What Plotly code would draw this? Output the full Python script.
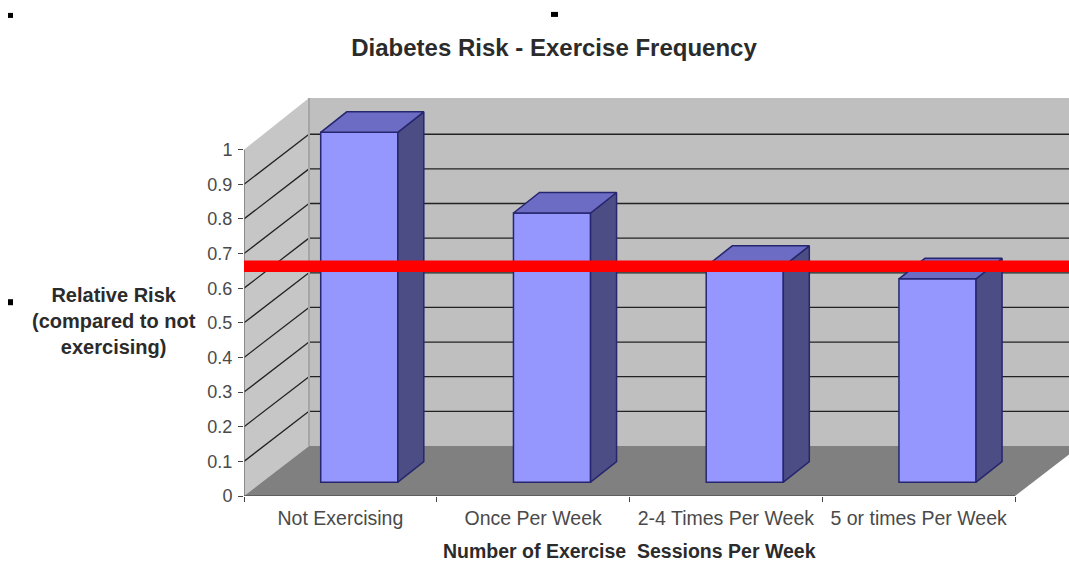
import plotly.graph_objects as go

# Chart data
categories = ["Not Exercising", "Once Per Week", "2-4 Times Per Week", "5 or times Per Week"]
relative_risk = [1.01, 0.777, 0.623, 0.587]
y_ticks = [0, 0.1, 0.2, 0.3, 0.4, 0.5, 0.6, 0.7, 0.8, 0.9, 1]
y_tick_labels = ["0", "0.1", "0.2", "0.3", "0.4", "0.5", "0.6", "0.7", "0.8", "0.9", "1"]
reference_level = 0.663

# Figure geometry (pixels)
W, H = 1069, 561
LEFT, TOP, AXIS_Y = 244, 98, 495.6
CAT_PX, UNIT_PX = 192.75, 346.0
X_MAX = (W - LEFT) / CAT_PX
Y_MAX = (AXIS_Y - TOP) / UNIT_PX
N = len(categories)

# Oblique projection offsets, in axis units
WALL_DX, WALL_DY = 65 / CAT_PX, 50 / UNIT_PX
BAR_DX, BAR_DY = 26 / CAT_PX, 20.5 / UNIT_PX
BAR_SHIFT, BAR_WIDTH, BAR_BASE = 0.098, 0.4, 0.04

FRONT, TOPFACE, SIDE, EDGE = "#9696ff", "#6c6cc4", "#4d4d85", "#26266e"
TEXT, BOLD_TEXT = "#4a4a4a", "#2b2b2b"
FONT = "Liberation Sans"


def polygon(points, fill):
    path = "M " + " L ".join(f"{x},{y}" for x, y in points) + " Z"
    return dict(type="path", path=path, xref="x", yref="y", layer="below",
                fillcolor=fill, line=dict(width=0))


def segment(x0, y0, x1, y1, color, width=1.0):
    return dict(type="line", x0=x0, y0=y0, x1=x1, y1=y1, xref="x", yref="y",
                layer="below", line=dict(color=color, width=width))


def speck(px, py, w, h):
    return dict(type="rect", xref="paper", yref="paper", fillcolor="#000000", line=dict(width=0),
                x0=(px - LEFT) / (W - LEFT), x1=(px + w - LEFT) / (W - LEFT),
                y0=(AXIS_Y - py - h) / (AXIS_Y - TOP), y1=(AXIS_Y - py) / (AXIS_Y - TOP))


# Walls, floor and their gridlines sit beneath the bars
edge_frac = (X_MAX - N) / WALL_DX
shapes = [
    polygon([(0, 0), (WALL_DX, WALL_DY), (WALL_DX, Y_MAX), (0, 1)], "#c6c6c6"),
    polygon([(WALL_DX, WALL_DY), (X_MAX, WALL_DY), (X_MAX, Y_MAX), (WALL_DX, Y_MAX)], "#bfbfbf"),
    polygon([(0, 0), (WALL_DX, WALL_DY), (X_MAX, WALL_DY),
             (X_MAX, edge_frac * WALL_DY), (N, 0)], "#808080"),
]
for t in y_ticks[1:-1]:
    shapes.append(segment(0, t, WALL_DX, t + WALL_DY, "#222222", 1.3))
    shapes.append(segment(WALL_DX, t + WALL_DY, X_MAX, t + WALL_DY, "#222222", 1.3))
shapes += [
    segment(WALL_DX, WALL_DY, WALL_DX, Y_MAX, "#a6a6a6", 2),
    segment(0, 0, 0, 1, "#777777", 1.5),
    segment(0, 0, N, 0, "#555555", 1.5),
    speck(8, 13, 5, 5), speck(551, 12, 7, 5), speck(8, 299, 5, 6),
]

fig = go.Figure()

# Front faces of the columns
bar_x = [i + 0.5 + BAR_SHIFT for i in range(N)]
fig.add_bar(x=bar_x, y=relative_risk, base=BAR_BASE, width=BAR_WIDTH,
            marker=dict(color=FRONT, line=dict(color=EDGE, width=1.5)))

# Right-hand and top faces, projected from each value
for cx, v in zip(bar_x, relative_risk):
    xl, xr, top = cx - BAR_WIDTH / 2, cx + BAR_WIDTH / 2, BAR_BASE + v
    fig.add_scatter(x=[xr, xr + BAR_DX, xr + BAR_DX, xr, xr],
                    y=[BAR_BASE, BAR_BASE + BAR_DY, top + BAR_DY, top, BAR_BASE],
                    fill="toself", fillcolor=SIDE, mode="lines", line=dict(color=EDGE, width=1.5))
    fig.add_scatter(x=[xl, xl + BAR_DX, xr + BAR_DX, xr, xl],
                    y=[top, top + BAR_DY, top + BAR_DY, top, top],
                    fill="toself", fillcolor=TOPFACE, mode="lines", line=dict(color=EDGE, width=1.5))

# Horizontal marker across the plot
fig.add_scatter(x=[0, X_MAX], y=[reference_level, reference_level], mode="lines",
                line=dict(color="#ff0000", width=11.5))

fig.update_layout(
    width=W, height=H, autosize=False, showlegend=False, hovermode=False,
    paper_bgcolor="#ffffff", plot_bgcolor="#ffffff",
    margin=dict(l=LEFT, r=0, t=TOP, b=H - AXIS_Y, pad=0),
    font=dict(family=FONT, color=TEXT),
    shapes=shapes,
    title=dict(text="<b>Diabetes Risk - Exercise Frequency</b>", x=554 / W, xanchor="center",
               y=1 - 48 / H, yanchor="middle", font=dict(family=FONT, size=24, color=BOLD_TEXT)),
    annotations=[
        dict(text="<b>Relative Risk<br>(compared to not<br>exercising)</b>", xref="paper", yref="paper",
             x=(114 - LEFT) / (W - LEFT), y=(AXIS_Y - 321) / (AXIS_Y - TOP), showarrow=False,
             xanchor="center", yanchor="middle",
             font=dict(family=FONT, size=20, color=BOLD_TEXT), align="center"),
        dict(text="<b>Number of Exercise  Sessions Per Week</b>", xref="paper", yref="paper",
             x=(629 - LEFT) / (W - LEFT), y=(AXIS_Y - 551) / (AXIS_Y - TOP), showarrow=False,
             xanchor="center", yanchor="middle",
             font=dict(family=FONT, size=19.5, color=BOLD_TEXT)),
    ],
)
fig.update_xaxes(range=[0, X_MAX], showgrid=False, zeroline=False, showline=False,
                 tickmode="array", tickvals=[i + 0.5 for i in range(N)], ticktext=categories,
                 ticks="", tickfont=dict(family=FONT, size=19.5, color=TEXT), ticklabelstandoff=8,
                 minor=dict(tickmode="array", tickvals=list(range(N + 1)), ticks="outside",
                            ticklen=5, tickcolor="#444444", tickwidth=1))
fig.update_yaxes(range=[0, Y_MAX], showgrid=False, zeroline=False, showline=False,
                 tickmode="array", tickvals=y_ticks, ticktext=y_tick_labels,
                 ticks="outside", ticklen=5, tickcolor="#444444", tickwidth=1, ticklabelstandoff=2,
                 tickfont=dict(family=FONT, size=18, color=TEXT))

fig.write_html("out.html", config=dict(displayModeBar=False))
